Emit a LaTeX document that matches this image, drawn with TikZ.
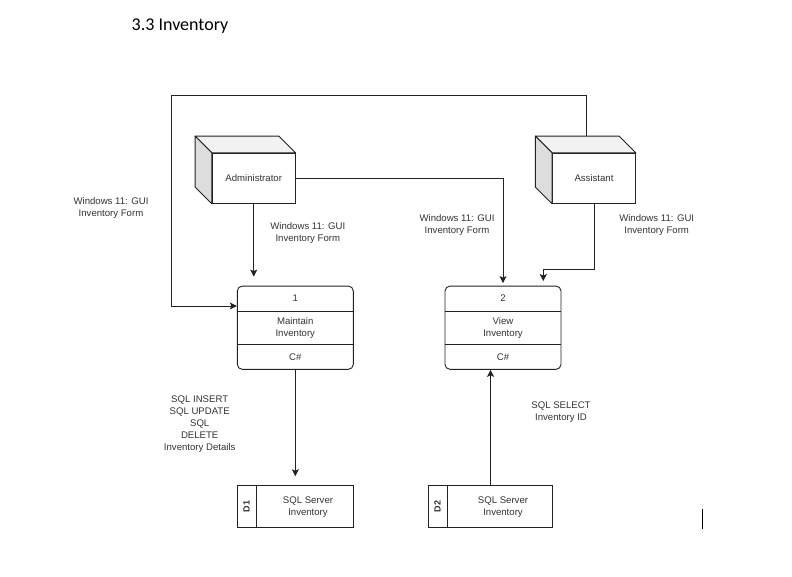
\documentclass[tikz,border=0pt]{standalone}
\usepackage{fontspec}
\setmainfont{Liberation Sans}
\newfontfamily\titlefont{Carlito}
\usetikzlibrary{arrows.meta}
\definecolor{linec}{HTML}{222222}
\definecolor{textc}{HTML}{333333}
\definecolor{topface}{HTML}{F2F2F2}
\definecolor{sideface}{HTML}{DDDDDD}
\tikzset{
  conn/.style={draw=linec, line width=0.9pt},
  arr/.style={conn, -{Stealth[length=7pt,width=7pt,inset=1.5pt]}},
  lbl/.style={text=textc, font=\fontsize{9.6}{12}\selectfont, align=center, inner sep=0pt},
  front/.style={draw=linec, line width=0.9pt, fill=white, minimum width=83pt, minimum height=50pt, inner sep=0pt, text=textc, font=\fontsize{9.6}{12}\selectfont},
  procbox/.style={draw=linec, line width=0.9pt, rounded corners=5pt, minimum width=116pt, minimum height=83.3pt, inner sep=0pt},
  storebox/.style={draw=linec, line width=0.9pt, minimum height=41.6pt, inner sep=0pt},
}
\begin{document}
\begin{tikzpicture}[x=1pt,y=-1pt]
\useasboundingbox (0,0) rectangle (792,577);
\fill[white] (0,0) rectangle (792,577);

% title
\node[anchor=base west, inner sep=0pt, font=\titlefont\fontsize{18}{20}\selectfont] (title) at (131.5,30.5) {3.3 Inventory};

% cubes
\node[front] (admin) at (253.7,178.3) {Administrator};
\node[front] (assist) at (594,178.3) {Assistant};
\foreach \c in {admin,assist}{
  \filldraw[draw=linec, line width=0.9pt, fill=topface, line join=round]
    (\c.north west) -- ++(-16.7,-16.7) -- ([xshift=-16.7pt,yshift=16.7pt]\c.north east) -- (\c.north east) -- cycle;
  \filldraw[draw=linec, line width=0.9pt, fill=sideface, line join=round]
    (\c.north west) -- ++(-16.7,-16.7) -- ([xshift=-16.7pt,yshift=16.7pt]\c.south west) -- (\c.south west) -- cycle;
}

% process boxes
\node[procbox] (p1) at (295.3,327.7) {};
\node[procbox] (p2) at (503,327.7) {};
\foreach \p/\n/\t in {p1/1/{Maintain\\Inventory}, p2/2/{View\\Inventory}}{
  \draw[conn] ([yshift=-25.7pt]\p.north west) -- ([yshift=-25.7pt]\p.north east);
  \draw[conn] ([yshift=25pt]\p.south west) -- ([yshift=25pt]\p.south east);
  \node[lbl] at ([yshift=-12.8pt]\p.north) {\n};
  \node[lbl] at ([yshift=-0.5pt]\p.center) {\t};
  \node[lbl] at ([yshift=13pt]\p.south) {C\#};
}

% data stores
\node[storebox, minimum width=116pt] (d1) at (295.3,506.5) {};
\node[storebox, minimum width=124.4pt] (d2) at (490.5,506.5) {};
\draw[conn] ([xshift=19.4pt]d1.north west) -- ([xshift=19.4pt]d1.south west);
\draw[conn] ([xshift=19.4pt]d2.north west) -- ([xshift=19.4pt]d2.south west);
\node[lbl, rotate=90, font=\bfseries\fontsize{9}{11}\selectfont] (d1id) at ([xshift=9.7pt]d1.west) {D1};
\node[lbl, rotate=90, font=\bfseries\fontsize{9}{11}\selectfont] (d2id) at ([xshift=9.7pt]d2.west) {D2};
\node[lbl] (d1t) at (308,507.5) {SQL Server\\Inventory};
\node[lbl] (d2t) at (503,507.5) {SQL Server\\Inventory};

% connectors
\coordinate (rt) at (586,95.3);
\coordinate (lt) at (171.7,95.3);
\draw[arr] ([xshift=-8pt,yshift=16.7pt]assist.north) -- (rt) -- (lt) |- ([yshift=21.7pt]p1.west);
\draw[arr, shorten >=9pt] (admin.south) -- (admin.south |- p1.north);
\draw[arr, shorten >=2.5pt] (admin.east) -| (p2.north);
\draw[arr, shorten >=4.5pt] (assist.south) -- ++(0,66) -| ([xshift=40.3pt]p2.north);
\draw[arr, shorten >=9pt] (p1.south) -- (d1.north);
\draw[arr] (d2.north) -- (d2.north |- p2.south);

% labels
\node[lbl] (l1) at (111,208.3) {Windows 11: GUI\\Inventory Form};
\node[lbl] (l2) at (307.8,233.3) {Windows 11: GUI\\Inventory Form};
\node[lbl] (l3) at (457,224.8) {Windows 11: GUI\\Inventory Form};
\node[lbl] (l4) at (656.7,224.8) {Windows 11: GUI\\Inventory Form};
\node[lbl] (l5) at (199.7,424.5) {SQL INSERT\\SQL UPDATE\\SQL\\DELETE\\Inventory Details};
\node[lbl] (l6) at (561,412) {SQL SELECT\\Inventory ID};

% text cursor
\draw[black, line width=1.6pt] (702.3,508.5) -- (702.3,529);
\end{tikzpicture}
\end{document}
